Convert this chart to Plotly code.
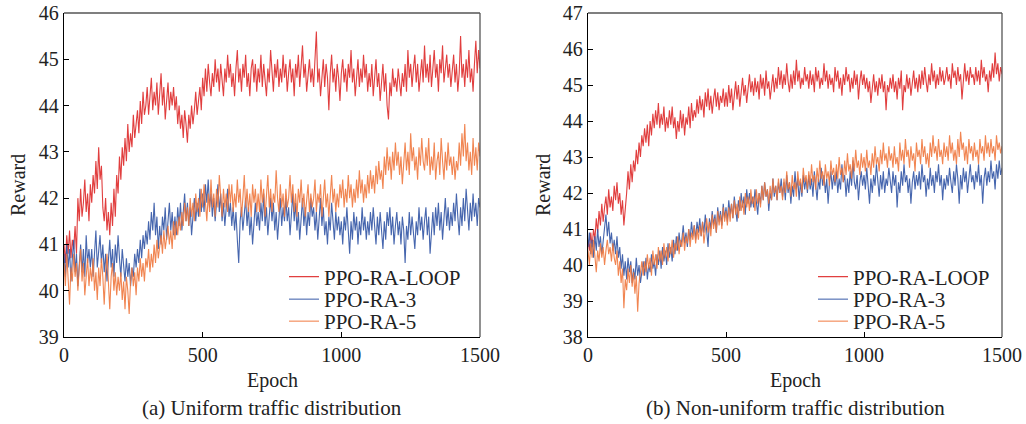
import plotly.graph_objects as go

# ---------------- data ----------------
epochs = list(range(0, 1501, 5))
series_names = ["PPO-RA-LOOP", "PPO-RA-3", "PPO-RA-5"]
x_ticks = [0, 500, 1000, 1500]
captions = ["(a) Uniform traffic distribution", "(b) Non-uniform traffic distribution"]

a_loop = [
    41.0, 40.6, 41.2, 40.8, 41.3, 40.7, 41.1, 40.9, 41.4, 40.8, 42.0, 41.5, 42.2, 41.6, 41.9, 42.4, 41.7, 42.1, 41.5, 42.3,
    41.9, 42.5, 42.1, 42.8, 42.2, 43.1, 42.4, 42.7, 41.8, 41.5, 42.0, 41.3, 41.7, 41.2, 41.9, 41.4, 42.2, 41.6, 42.5, 42.1,
    42.9, 42.4, 43.1, 42.7, 43.3, 42.8, 43.6, 43.0, 43.4, 43.1, 43.8, 43.3, 43.6, 43.9, 43.4, 44.1, 43.6, 44.3, 43.8, 44.0,
    44.4, 43.8, 44.2, 44.6, 43.9, 44.3, 44.0, 44.5, 43.8, 44.2, 44.7, 44.0, 44.4, 43.7, 44.2, 44.5, 43.9, 44.3, 44.0, 44.4,
    43.9, 44.2, 43.6, 44.0, 43.5, 43.8, 43.3, 43.9, 43.6, 43.2, 43.8, 43.5, 44.0, 43.6, 43.9, 44.3, 43.8, 44.1, 44.4, 43.9,
    44.6, 44.2, 44.8, 44.3, 44.9, 44.5, 44.2, 44.7, 44.4, 45.0, 44.5, 44.8, 44.3, 44.9, 44.6, 44.2, 44.8, 44.5, 45.1, 44.6,
    44.9, 44.4, 44.7, 44.2, 44.8, 45.2, 44.5, 44.8, 44.3, 44.9, 44.6, 45.1, 44.4, 44.7, 44.2, 44.8, 45.0, 44.5, 44.9, 44.3,
    44.8, 44.5, 45.1, 44.4, 44.9, 44.6, 44.2, 44.8, 44.5, 45.2, 44.7, 44.3, 44.9, 44.6, 45.0, 44.4, 44.8, 44.5, 45.1, 44.6,
    44.9, 44.3, 44.7, 45.0, 44.5, 44.8, 44.2, 44.9, 44.6, 45.1, 44.4, 44.8, 45.3, 44.6, 44.9, 44.3, 44.7, 45.0, 44.5, 44.8,
    44.4, 44.9, 45.6, 44.5, 44.8, 44.2, 44.7, 45.0, 44.4, 44.9, 44.6, 43.9, 44.7, 45.1, 44.5, 44.8, 44.3, 44.9, 44.6, 44.1,
    44.7, 45.0, 44.5, 44.8, 44.3, 44.9, 44.6, 45.2, 44.5, 44.8, 44.2, 44.7, 45.0, 44.4, 44.8, 44.5, 45.1, 44.6, 44.9, 44.3,
    44.7, 44.4, 44.9, 44.2, 44.6, 45.0, 44.4, 44.7, 44.1, 44.6, 44.9, 44.3, 44.7, 44.0, 43.7, 44.5, 44.2, 44.8, 44.4, 44.6,
    44.3, 44.8, 44.5, 44.2, 44.7, 44.4, 44.9, 44.3, 45.2, 44.6, 44.9, 44.4, 44.8, 45.1, 44.5, 44.9, 44.3, 44.7, 45.0, 44.5,
    45.3, 44.6, 44.9, 44.5, 45.1, 44.4, 44.8, 45.2, 44.6, 44.9, 44.3, 45.0, 44.7, 45.3, 44.5, 44.8, 45.1, 44.6, 44.9, 44.4,
    44.8, 45.1, 44.5, 44.9, 44.3, 44.7, 45.5, 44.6, 44.9, 44.4, 45.0, 44.6, 45.2, 44.5, 44.8, 44.3, 44.9, 45.4, 44.7, 45.2,
    44.8,
]
a_ra3 = [
    40.8, 40.3, 41.0, 40.5, 40.9, 40.2, 40.7, 41.1, 40.4, 40.8, 40.1, 40.6, 41.0, 40.4, 40.9, 40.3, 41.2, 40.6, 40.9, 40.5,
    40.9, 40.3, 40.7, 41.3, 40.5, 40.9, 41.2, 40.6, 41.0, 40.4, 40.8, 40.2, 40.7, 41.1, 40.5, 40.9, 40.3, 41.0, 40.6, 41.2,
    40.7, 40.3, 40.9, 40.5, 40.2, 40.7, 40.3, 40.6, 40.1, 40.5, 40.3, 40.8, 40.5, 40.9, 40.6, 41.1, 40.7, 41.2, 40.9, 41.3,
    41.0, 41.5, 41.1, 41.7, 41.3, 41.9, 41.2, 41.6, 40.9, 41.4, 41.0, 41.6, 41.3, 41.8, 41.1, 41.5, 41.9, 41.3, 41.7, 41.2,
    41.6, 41.2, 41.8, 41.4, 41.9, 41.3, 41.7, 42.1, 41.5, 41.9, 41.4, 41.8, 41.2, 41.7, 42.0, 41.5, 41.9, 41.6, 42.2, 41.7,
    42.1, 41.7, 42.3, 41.9, 42.4, 41.8, 42.1, 41.6, 42.0, 41.5, 41.9, 42.3, 41.7, 42.1, 41.5, 41.9, 41.4, 41.8, 42.2, 41.6,
    41.9, 41.4, 41.8, 41.3, 41.7, 41.1, 40.6, 41.5, 41.8, 41.3, 41.7, 42.0, 41.4, 41.8, 41.2, 41.6, 41.0, 41.5, 41.9, 41.4,
    41.7, 41.3, 41.9, 41.5, 42.1, 41.4, 41.8, 41.2, 41.6, 42.0, 41.5, 41.9, 41.3, 41.7, 41.1, 41.6, 42.0, 41.4, 41.8, 41.5,
    42.0, 41.5, 41.8, 41.2, 41.7, 42.1, 41.5, 41.9, 41.3, 41.7, 41.1, 41.6, 42.0, 41.4, 41.8, 41.2, 41.7, 41.4, 42.0, 41.6,
    41.8, 41.3, 41.7, 41.1, 41.6, 42.0, 41.4, 41.8, 41.2, 41.5, 41.0, 41.6, 41.3, 41.9, 41.5, 41.1, 41.7, 41.3, 41.6, 41.2,
    41.5, 41.0, 41.6, 41.3, 41.8, 41.2, 40.8, 41.5, 41.1, 41.7, 41.3, 41.6, 41.0, 41.5, 41.2, 41.8, 41.3, 41.6, 41.1, 41.5,
    41.2, 41.7, 41.3, 41.8, 41.4, 41.0, 41.6, 41.2, 41.7, 41.3, 40.9, 41.5, 41.1, 41.7, 41.4, 41.8, 41.2, 41.6, 41.0, 41.4,
    41.7, 41.2, 41.5, 41.0, 41.6, 41.3, 40.6, 41.4, 41.1, 41.7, 41.2, 41.6, 41.3, 40.9, 41.5, 41.2, 41.8, 41.3, 41.6, 41.1,
    41.5, 41.8, 41.2, 41.6, 40.8, 41.4, 41.7, 41.2, 41.8, 41.4, 41.9, 41.3, 41.7, 41.1, 41.6, 42.0, 41.4, 41.8, 41.3, 41.7,
    41.4, 41.9, 41.5, 42.1, 41.6, 41.2, 41.8, 41.4, 42.0, 41.5, 42.2, 41.7, 41.3, 41.9, 41.5, 42.1, 41.6, 41.9, 41.4, 42.0,
    41.8,
]
a_ra5 = [
    40.6, 40.1, 40.8, 40.3, 39.7, 40.5, 40.2, 40.8, 40.3, 40.6, 40.0, 40.5, 40.9, 40.2, 40.6, 39.9, 40.4, 40.7, 40.1, 40.5,
    40.2, 40.7, 40.0, 40.4, 39.8, 40.5, 40.1, 40.7, 40.3, 39.7, 40.4, 40.8, 40.2, 39.6, 40.3, 40.6, 40.0, 40.4, 39.9, 40.3,
    40.0, 40.4, 39.8, 40.2, 39.6, 40.3, 40.0, 39.5, 40.2, 40.5, 40.1, 40.4, 39.9, 40.5, 40.2, 40.7, 40.3, 40.6, 40.2, 40.7,
    40.5, 40.9, 40.4, 40.8, 40.5, 41.0, 40.6, 41.1, 40.7, 40.9, 41.2, 40.8, 41.3, 40.9, 41.1, 41.4, 41.0, 41.3, 40.9, 41.5,
    41.1, 41.5, 41.2, 41.6, 41.3, 41.7, 41.4, 41.9, 41.5, 41.8, 41.4, 42.0, 41.6, 41.9, 41.5, 42.1, 41.7, 42.0, 41.6, 42.2,
    41.8, 42.3, 41.9, 41.5, 42.1, 41.7, 42.4, 41.8, 42.1, 41.6, 42.2, 41.8, 42.5, 41.9, 41.6, 42.2, 41.8, 42.1, 41.7, 42.3,
    41.9, 42.3, 41.7, 42.1, 41.8, 42.4, 41.9, 42.2, 41.6, 42.0, 42.5, 41.8, 42.2, 41.7, 42.1, 41.6, 42.3, 41.9, 42.2, 41.7,
    42.1, 41.7, 42.4, 41.9, 42.2, 41.6, 42.0, 42.5, 41.8, 42.2, 41.7, 42.1, 41.9, 42.6, 42.0, 41.7, 42.3, 41.8, 42.1, 41.6,
    42.2, 41.8, 42.0, 42.5, 41.9, 42.3, 41.7, 42.1, 41.6, 42.2, 41.9, 42.4, 41.8, 42.1, 41.6, 42.0, 42.3, 41.7, 42.1, 41.8,
    42.0, 42.4, 41.7, 42.1, 41.9, 42.3, 41.6, 42.0, 42.4, 41.8, 42.1, 41.6, 42.0, 42.5, 41.9, 42.2, 41.7, 42.1, 41.8, 42.3,
    42.0, 42.4, 41.8, 42.2, 41.9, 42.5, 42.0, 42.3, 41.8, 42.2, 41.9, 42.4, 42.0, 42.6, 42.1, 42.4, 41.9, 42.3, 42.0, 42.5,
    42.1, 42.6, 42.2, 42.5, 42.1, 42.7, 42.3, 42.8, 42.4, 42.6, 42.2, 42.9, 42.5, 43.1, 42.6, 42.9, 42.4, 43.0, 42.6, 43.2,
    42.7, 43.0, 42.5, 42.9, 42.3, 42.8, 43.2, 42.6, 43.0, 42.5, 43.4, 42.8, 43.1, 42.6, 42.9, 42.4, 43.1, 42.7, 43.3, 42.8,
    42.6, 43.1, 42.7, 43.3, 42.5, 42.9, 42.6, 43.2, 42.4, 42.8, 43.0, 42.5, 43.3, 42.8, 42.4, 43.0, 42.6, 43.2, 42.7, 42.9,
    42.5, 42.9, 42.4, 42.8, 42.6, 43.2, 42.7, 43.4, 42.9, 43.6, 42.8, 43.2, 42.6, 43.0, 42.5, 43.3, 42.7, 43.1, 42.6, 43.2,
    42.9,
]
b_loop = [
    40.7, 40.4, 40.9, 40.5, 41.0, 40.7, 41.3, 40.9, 41.5, 41.1, 41.7, 41.2, 41.6, 41.9, 41.4, 42.1, 41.6, 41.9, 41.5, 42.2,
    41.8, 42.3, 41.7, 42.0, 41.4, 41.8, 41.1, 41.5, 42.0, 42.6, 42.1, 42.8, 42.3, 42.9, 42.6, 43.2, 42.8, 43.4, 43.0, 43.6,
    43.3, 43.8, 43.4, 43.9, 43.3, 44.0, 43.6, 44.2, 43.8, 44.3, 43.9, 44.5, 43.8, 44.2, 43.9, 44.4, 43.7, 44.1, 43.8, 44.3,
    43.9, 44.4, 43.8, 44.1, 43.5, 44.0, 43.7, 44.3, 43.8, 44.2, 43.6, 44.1, 43.9, 44.4, 43.8, 44.5, 44.0, 44.3, 44.1, 44.6,
    44.2, 44.7, 44.3, 44.6, 44.1, 44.8, 44.4, 44.9, 44.3, 44.7, 44.2, 44.6, 44.9, 44.4, 44.8, 44.3, 44.7, 44.5, 44.9, 44.4,
    44.8, 44.4, 45.0, 44.5, 44.9, 44.3, 44.7, 45.1, 44.6, 45.0, 44.4, 44.8, 45.2, 44.7, 45.0, 44.5, 44.9, 45.3, 44.8, 45.1,
    44.7, 45.2, 44.8, 45.1, 44.6, 45.3, 44.9, 45.2, 44.7, 45.4, 44.9, 45.1, 44.6, 45.0, 45.3, 44.8, 45.2, 44.9, 45.5, 45.0,
    45.4, 44.9, 45.3, 45.0, 45.6, 45.1, 44.8, 45.3, 44.9, 45.4, 45.0, 45.7, 45.1, 45.4, 44.9, 45.2, 45.0, 45.5, 45.1, 45.3,
    44.9, 45.4, 45.0, 45.3, 44.8, 45.5, 45.1, 45.4, 44.9, 45.2, 45.0, 45.6, 45.1, 45.4, 44.9, 45.3, 45.0, 45.2, 44.8, 45.5,
    45.1, 45.4, 44.9, 45.2, 44.7, 45.3, 45.0, 45.5, 45.1, 45.3, 44.8, 45.2, 44.9, 45.4, 45.0, 45.3, 44.6, 45.1, 45.4, 45.0,
    45.3, 44.9, 45.2, 44.8, 45.1, 44.5, 45.0, 45.3, 44.8, 45.1, 44.7, 45.2, 44.9, 45.3, 44.8, 45.1, 44.3, 45.0, 44.8, 45.2,
    44.9, 45.3, 44.8, 45.1, 44.6, 45.2, 44.9, 45.4, 44.3, 45.0, 44.8, 45.3, 44.9, 45.2, 44.7, 45.1, 45.4, 44.9, 45.2, 44.8,
    45.3, 44.9, 45.4, 45.0, 45.5, 45.1, 44.8, 45.3, 45.0, 45.6, 45.1, 45.4, 44.9, 45.3, 45.0, 45.5, 45.1, 45.4, 45.0, 45.2,
    45.5, 45.1, 45.3, 44.9, 45.6, 45.2, 45.4, 45.0, 45.5, 45.1, 45.3, 44.6, 45.2, 45.6, 45.1, 45.4, 45.0, 45.5, 45.2, 45.3,
    45.0, 45.5, 45.1, 45.4, 45.0, 45.7, 45.2, 45.5, 45.1, 45.3, 44.8, 45.4, 45.1, 45.6, 45.2, 45.9, 45.3, 45.6, 45.1, 45.5,
    45.3,
]
b_ra3 = [
    40.5, 40.9, 40.3, 40.7, 40.2, 40.8, 40.4, 41.0, 40.5, 40.8, 40.3, 40.7, 41.0, 41.4, 40.8, 41.2, 40.6, 40.9, 40.4, 40.7,
    40.3, 40.8, 40.2, 40.5, 39.9, 40.3, 39.7, 40.1, 39.6, 40.2, 39.8, 40.1, 39.5, 39.9, 39.6, 40.2, 39.7, 40.0, 39.5, 39.9,
    40.1, 39.7, 40.2, 39.6, 40.0, 39.8, 40.3, 39.9, 40.1, 39.7, 40.3, 40.0, 40.4, 39.9, 40.5, 40.1, 40.4, 40.0, 40.6, 40.2,
    40.5, 40.1, 40.7, 40.3, 40.8, 40.4, 40.9, 40.5, 40.7, 41.1, 40.6, 40.9, 40.5, 41.0, 40.7, 41.2, 40.8, 41.1, 40.7, 41.2,
    40.9, 41.3, 40.8, 41.2, 40.9, 41.4, 41.0, 40.5, 41.3, 41.0, 41.5, 41.1, 41.4, 40.9, 41.6, 41.2, 41.5, 41.1, 41.7, 41.3,
    41.6, 41.2, 41.8, 41.4, 41.7, 41.3, 41.9, 41.5, 41.2, 41.8, 41.5, 42.0, 41.6, 41.9, 41.4, 42.1, 41.7, 42.0, 41.6, 41.9,
    41.6, 42.1, 41.7, 41.4, 42.0, 41.7, 42.2, 41.8, 42.3, 41.9, 42.1, 41.5, 42.0, 41.8, 42.4, 41.9, 42.2, 41.8, 42.3, 42.0,
    42.4, 41.9, 42.3, 41.8, 42.5, 42.0, 42.3, 41.7, 42.2, 41.9, 42.6, 42.1, 42.4, 41.8, 42.3, 41.9, 42.5, 42.1, 42.4, 42.0,
    42.5, 42.1, 42.4, 41.9, 42.6, 42.2, 41.8, 42.4, 42.1, 42.7, 42.2, 42.5, 42.0, 42.4, 41.7, 42.3, 42.6, 42.1, 42.5, 42.2,
    42.6, 42.0, 42.4, 42.1, 42.8, 42.3, 42.5, 41.9, 42.4, 42.0, 42.6, 42.2, 42.9, 42.3, 42.1, 42.5, 41.8, 42.3, 42.6, 42.2,
    42.5, 42.1, 42.7, 42.2, 41.7, 42.4, 42.0, 42.5, 42.2, 42.8, 42.3, 41.9, 42.5, 42.1, 42.6, 42.0, 42.4, 42.2, 42.7, 42.3,
    42.0, 42.6, 42.2, 42.5, 41.6, 42.3, 42.0, 42.6, 42.2, 42.8, 42.3, 42.5, 42.0, 42.4, 41.7, 42.3, 42.6, 42.1, 42.5, 42.2,
    42.6, 42.1, 42.8, 42.3, 42.5, 41.9, 42.4, 42.1, 42.7, 42.2, 42.5, 42.0, 42.6, 42.3, 42.8, 42.2, 42.5, 41.8, 42.4, 42.1,
    42.5, 42.2, 42.7, 42.3, 42.0, 42.6, 42.2, 42.8, 42.4, 41.7, 42.5, 42.1, 42.7, 42.3, 42.6, 42.0, 42.4, 42.8, 42.3, 42.5,
    42.1, 42.6, 42.3, 42.8, 42.2, 42.5, 41.7, 42.4, 42.7, 42.2, 42.6, 42.3, 42.9, 42.4, 42.6, 42.1, 42.8, 42.4, 42.9, 42.5,
    42.7,
]
b_ra5 = [
    40.4, 40.0, 40.6, 40.2, 40.7, 40.3, 39.8, 40.4, 40.1, 40.6, 40.2, 40.5, 40.0, 40.4, 40.7, 40.3, 40.5, 40.1, 40.6, 40.2,
    40.0, 40.4, 39.7, 40.1, 39.5, 39.9, 38.8, 39.6, 39.3, 39.9, 39.5, 40.0, 39.4, 39.8, 39.2, 39.7, 38.7, 39.5, 39.8, 40.1,
    39.7, 40.1, 39.8, 40.3, 39.9, 40.2, 39.7, 40.4, 40.0, 40.3, 39.9, 40.5, 40.1, 40.4, 40.0, 40.6, 40.2, 40.5, 40.1, 40.6,
    40.3, 40.7, 40.2, 40.6, 40.4, 40.8, 40.3, 40.7, 40.5, 40.9, 40.4, 40.8, 40.6, 41.0, 40.5, 40.9, 40.7, 41.1, 40.6, 41.0,
    40.7, 41.1, 40.8, 41.2, 40.6, 41.0, 41.3, 40.9, 41.2, 40.8, 41.4, 41.0, 41.3, 40.9, 41.5, 41.1, 41.4, 41.0, 41.6, 41.2,
    41.5, 41.1, 41.6, 41.2, 41.7, 41.3, 41.8, 41.4, 41.7, 41.3, 41.9, 41.5, 41.8, 41.4, 42.0, 41.6, 41.9, 41.5, 42.1, 41.7,
    41.9, 41.5, 42.1, 41.7, 42.0, 41.6, 42.2, 41.8, 42.3, 41.9, 42.1, 41.7, 42.2, 41.8, 42.4, 42.0, 42.2, 41.8, 42.4, 42.0,
    42.2, 41.8, 42.4, 42.0, 42.6, 42.1, 42.3, 41.9, 42.5, 42.1, 42.3, 41.9, 42.6, 42.2, 42.4, 42.0, 42.7, 42.3, 42.5, 42.1,
    42.6, 42.2, 42.8, 42.3, 42.5, 42.1, 42.7, 42.3, 42.9, 42.4, 42.6, 42.2, 42.8, 42.4, 42.6, 42.2, 42.9, 42.5, 42.7, 42.3,
    42.8, 42.4, 43.0, 42.5, 42.7, 42.3, 42.9, 42.5, 43.1, 42.6, 42.8, 42.4, 43.0, 42.6, 43.2, 42.7, 42.9, 42.5, 43.1, 42.7,
    43.0, 42.6, 43.2, 42.7, 42.9, 42.5, 43.1, 42.7, 43.3, 42.8, 43.0, 42.6, 43.2, 42.8, 43.4, 42.9, 43.1, 42.7, 43.3, 42.9,
    43.1, 42.7, 43.3, 42.8, 43.0, 42.6, 43.4, 42.9, 43.2, 42.8, 43.5, 43.0, 43.2, 42.7, 43.3, 42.9, 43.1, 42.6, 43.4, 43.0,
    43.2, 42.8, 43.5, 43.0, 43.3, 42.8, 43.1, 42.7, 43.4, 43.0, 43.6, 43.1, 43.3, 42.9, 43.5, 43.0, 43.2, 42.8, 43.4, 43.0,
    43.3, 42.9, 43.6, 43.1, 43.4, 42.9, 43.2, 42.8, 43.5, 43.0, 43.7, 43.2, 43.4, 42.9, 43.3, 42.8, 43.5, 43.1, 43.3, 42.9,
    43.4, 43.0, 43.2, 42.8, 43.5, 43.1, 43.3, 42.9, 43.6, 43.1, 43.4, 43.0, 43.5, 43.1, 43.3, 42.9, 43.6, 43.2, 43.4, 43.1,
    43.3,
]

# ---------------- style ----------------
FONT = "Liberation Serif, Times New Roman, serif"
colors = ["#de2a2a", "#3356a6", "#f0783f"]
TXT = "#222222"

W, H = 1026, 424
def px(x):
    return x / W
def py(y):
    return 1 - y / H

fig = go.Figure()

# legend rows (pixel y centres) and left x positions for each panel
legend_rows = [277, 299.5, 321.5]
legend_x = [284, 813]

panels = [
    dict(data=[a_loop, a_ra3, a_ra5], xa="x", ya="y"),
    dict(data=[b_loop, b_ra3, b_ra5], xa="x2", ya="y2"),
]
legend_layout = {}
k = 0
for pi, p in enumerate(panels):
    for si, (name, vals, col) in enumerate(zip(series_names, p["data"], colors)):
        k += 1
        lname = "legend" if k == 1 else f"legend{k}"
        fig.add_trace(go.Scatter(
            x=epochs, y=vals, mode="lines", name=name,
            line=dict(color=col, width=1.1), opacity=0.9,
            xaxis=p["xa"], yaxis=p["ya"], legend=lname,
        ))
        legend_layout[lname] = dict(
            x=px(legend_x[pi]), xanchor="left",
            y=py(legend_rows[si]), yanchor="middle",
            bgcolor="rgba(0,0,0,0)", borderwidth=0,
            font=dict(family=FONT, size=21, color=TXT),
        )

axis_common = dict(
    showline=True, linecolor="black", linewidth=1.3, mirror=False,
    ticks="inside", ticklen=5, tickcolor="black", tickwidth=1.2,
    showgrid=False, zeroline=False, automargin=False,
    tickfont=dict(family=FONT, size=20, color=TXT),
)

fig.update_layout(
    width=W, height=H,
    margin=dict(l=0, r=0, t=0, b=0),
    paper_bgcolor="white", plot_bgcolor="white",
    font=dict(family=FONT, size=20, color=TXT),
    xaxis=dict(domain=[px(64), px(480)], range=[0, 1500], tickvals=x_ticks,
               anchor="y", **axis_common),
    yaxis=dict(domain=[py(337), py(13)], range=[39, 46], dtick=1,
               anchor="x", **axis_common),
    xaxis2=dict(domain=[px(588), px(1002)], range=[0, 1500], tickvals=x_ticks,
                anchor="y2", **axis_common),
    yaxis2=dict(domain=[py(337), py(13)], range=[38, 47], dtick=1,
                anchor="x2", **axis_common),
    showlegend=True,
    **legend_layout,
)

# top/right box edges (gray)
for xa, ya in [("x", "y"), ("x2", "y2")]:
    fig.add_shape(type="line", xref=f"{xa} domain", yref=f"{ya} domain",
                  x0=0, x1=1, y0=1, y1=1, line=dict(color="#555555", width=1.3))
    fig.add_shape(type="line", xref=f"{xa} domain", yref=f"{ya} domain",
                  x0=1, x1=1, y0=0, y1=1, line=dict(color="#555555", width=1.3))

# axis titles and captions
ann = [
    dict(text="Epoch", x=px(272), y=py(380), size=20),
    dict(text="Epoch", x=px(795), y=py(380), size=20),
    dict(text=captions[0], x=px(272), y=py(408), size=21),
    dict(text=captions[1], x=px(795), y=py(408), size=21),
    dict(text="Reward", x=px(18), y=py(185), textangle=-90, size=20),
    dict(text="Reward", x=px(543), y=py(185), textangle=-90, size=20),
]
for a in ann:
    size = a.pop("size")
    fig.add_annotation(xref="paper", yref="paper", showarrow=False,
                       xanchor="center", yanchor="middle",
                       font=dict(family=FONT, size=size, color=TXT), **a)

fig.write_html(
    "out.html",
    config={"displayModeBar": False},
    post_script="document.body.style.margin='0';document.body.style.overflow='hidden';",
)
